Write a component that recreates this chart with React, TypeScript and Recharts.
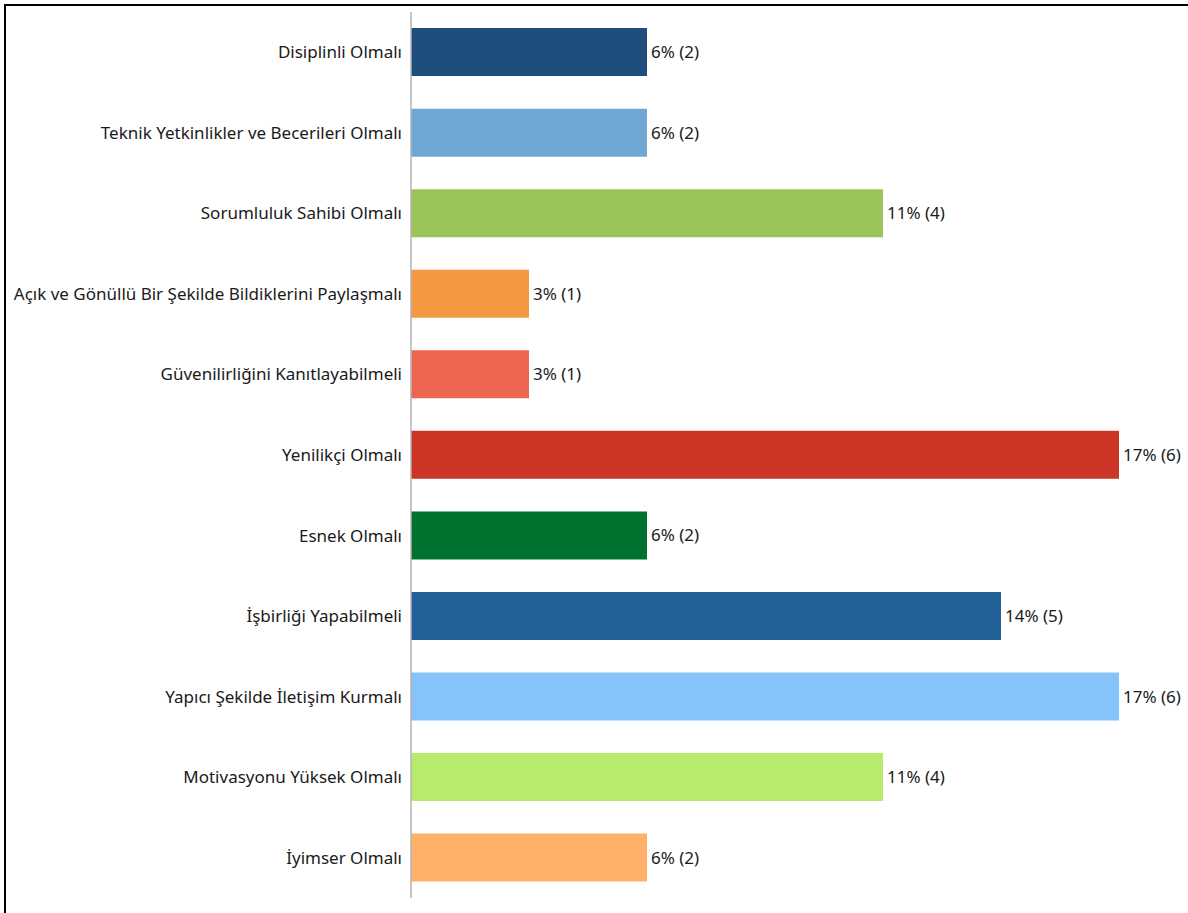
import { Bar, BarChart, Cell, LabelList, XAxis, YAxis } from "recharts";

const categories = [
  "Disiplinli Olmalı",
  "Teknik Yetkinlikler ve Becerileri Olmalı",
  "Sorumluluk Sahibi Olmalı",
  "Açık ve Gönüllü Bir Şekilde Bildiklerini Paylaşmalı",
  "Güvenilirliğini Kanıtlayabilmeli",
  "Yenilikçi Olmalı",
  "Esnek Olmalı",
  "İşbirliği Yapabilmeli",
  "Yapıcı Şekilde İletişim Kurmalı",
  "Motivasyonu Yüksek Olmalı",
  "İyimser Olmalı",
];
const counts = [2, 2, 4, 1, 1, 6, 2, 5, 6, 4, 2];
const percents = ["6%", "6%", "11%", "3%", "3%", "17%", "6%", "14%", "17%", "11%", "6%"];
const colors = [
  "#1f4e7d", "#6fa6d4", "#9bc55b", "#f49842", "#ee6650", "#cd3627",
  "#00722f", "#226197", "#84c4fa", "#b8eb6b", "#ffb169",
];

const data = categories.map((name, i) => ({
  name,
  count: counts[i],
  label: `${percents[i]} (${counts[i]})`,
}));

const font = "'Noto Sans', 'Open Sans', sans-serif";

export default function App() {
  return (
    <div style={{ position: "absolute", left: 0, top: 0, width: 1188, height: 913, background: "#fff" }}>
      <div
        style={{
          position: "absolute",
          left: 4,
          top: 4,
          width: 1184,
          height: 909,
          borderTop: "2px solid #000",
          borderLeft: "2px solid #000",
          boxSizing: "border-box",
        }}
      />
      <div style={{ position: "absolute", left: 0, top: 0 }}>
        <BarChart
          width={1188}
          height={913}
          data={data}
          layout="vertical"
          margin={{ top: 12, right: 69, bottom: 15, left: 0 }}
          barCategoryGap="20%"
        >
          <XAxis type="number" domain={[0, 6]} hide />
          <YAxis
            type="category"
            dataKey="name"
            width={411}
            tickLine={false}
            tickSize={6}
            tickMargin={3}
            axisLine={{ stroke: "#b3b3b3", strokeWidth: 1.5 }}
            tick={{ fill: "#1a1a1a", fontSize: 17, fontFamily: font }}
            interval={0}
          />
          <Bar dataKey="count" isAnimationActive={false}>
            {data.map((d, i) => (
              <Cell key={d.name} fill={colors[i]} />
            ))}
            <LabelList
              dataKey="label"
              position="right"
              offset={4}
              fill="#1a1a1a"
              fontSize={17}
              fontFamily={font}
            />
          </Bar>
        </BarChart>
      </div>
    </div>
  );
}
